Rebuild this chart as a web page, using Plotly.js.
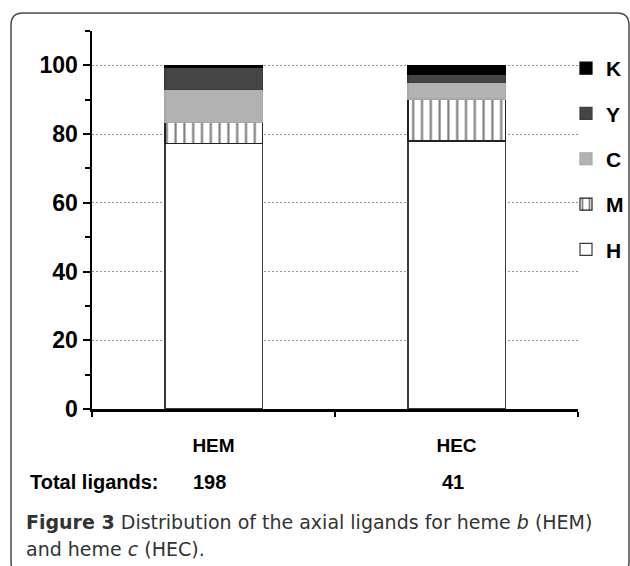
<!DOCTYPE html>
<html>
<head>
<meta charset="utf-8">
<script src="https://cdn.plot.ly/plotly-3.0.1.min.js"></script>
<style>html,body{margin:0;padding:0;background:#fff;}#chart{width:630px;height:566px;}</style>
</head>
<body>
<div id="chart"></div>
<script>
// Data
var categories = ['HEM', 'HEC'];
var totals = [198, 41];
var seriesNames = ['H', 'M', 'C', 'Y', 'K'];
var valuesH = [77.3, 78.0];
var valuesM = [6.1, 12.2];
var valuesC = [9.6, 4.9];
var valuesY = [6.5, 2.4];
var valuesK = [0.5, 2.5];
var yTicks = [0, 20, 40, 60, 80, 100];

var seriesValues = [valuesH, valuesM, valuesC, valuesY, valuesK];
var fills = ['#ffffff', '#ffffff', '#b2b2b2', '#454545', '#000000'];
var edgeColors = ['#3a3a3a', '#222222', '#a8a8a8', '#3c3c3c', '#000000'];

var traces = seriesNames.map(function (name, i) {
  var marker = {color: fills[i], line: {color: edgeColors[i], width: 1.2}};
  if (name === 'M') {
    marker.pattern = {shape: '|', fgcolor: '#000000', bgcolor: '#ffffff', size: 8.8, solidity: 0.25, fillmode: 'overlay'};
  }
  return {
    type: 'bar', name: name, x: categories, y: seriesValues[i],
    marker: marker, legendgroup: name, legendrank: seriesNames.length - i, hoverinfo: 'skip'
  };
});

// plot-area pixel geometry helpers for paper coords
var L = 92, R = 52, T = 31, B = 157, W = 630, H = 566;
var pw = W - L - R, ph = H - T - B;
function px(x) { return (x - L) / pw; }
function py(y) { return (H - B - y) / ph; }

var bx0 = px(11), bx1 = px(629), by0 = py(13), by1 = py(574);
var rx = 12 / pw, ry = 12 / ph;
var borderPath = 'M' + (bx0 + rx) + ',' + by0 +
  ' L' + (bx1 - rx) + ',' + by0 +
  ' Q' + bx1 + ',' + by0 + ' ' + bx1 + ',' + (by0 - ry) +
  ' L' + bx1 + ',' + (by1 + ry) +
  ' Q' + bx1 + ',' + by1 + ' ' + (bx1 - rx) + ',' + by1 +
  ' L' + (bx0 + rx) + ',' + by1 +
  ' Q' + bx0 + ',' + by1 + ' ' + bx0 + ',' + (by1 + ry) +
  ' L' + bx0 + ',' + (by0 - ry) +
  ' Q' + bx0 + ',' + by0 + ' ' + (bx0 + rx) + ',' + by0 + ' Z';

var labelFont = {family: 'Liberation Sans, Arial, sans-serif', size: 20, color: '#000', weight: 'bold'};
var captionFont = {family: 'DejaVu Sans, Open Sans, sans-serif', size: 19, color: '#333'};

var annotations = [
  {xref: 'paper', yref: 'paper', x: px(28), y: py(482), xanchor: 'left', yanchor: 'middle',
   text: 'Total ligands:', showarrow: false, font: labelFont}
];
categories.forEach(function (c, i) {
  annotations.push({xref: 'x', yref: 'paper', x: c, xshift: -4, y: py(482), xanchor: 'center', yanchor: 'middle',
    text: String(totals[i]), showarrow: false, font: labelFont});
});
annotations.push({xref: 'paper', yref: 'paper', x: px(24), y: py(522), xanchor: 'left', yanchor: 'middle',
  text: '<b>Figure 3</b> Distribution of the axial ligands for heme <i>b</i> (HEM)', showarrow: false, font: captionFont});
annotations.push({xref: 'paper', yref: 'paper', x: px(24), y: py(549), xanchor: 'left', yanchor: 'middle',
  text: 'and heme <i>c</i> (HEC).', showarrow: false, font: captionFont});

var layout = {
  width: W, height: H,
  margin: {l: L, r: R, t: T, b: B, pad: 0, autoexpand: false},
  paper_bgcolor: '#fff', plot_bgcolor: '#fff',
  barmode: 'stack', bargap: 0.6,
  showlegend: true,
  legend: {x: px(566), y: py(48), xanchor: 'left', yanchor: 'top', traceorder: 'grouped',
    tracegroupgap: 15, font: {family: 'Liberation Sans, Arial, sans-serif', size: 21, color: '#000', weight: 'bold'},
    bgcolor: 'rgba(0,0,0,0)', itemwidth: 30},
  xaxis: {
    type: 'category', showline: true, linecolor: '#000', linewidth: 2.5,
    ticks: 'outside', tickson: 'boundaries', ticklen: 5, tickwidth: 2, tickcolor: '#000',
    ticklabelstandoff: 18,
    tickfont: {family: 'Liberation Sans, Arial, sans-serif', size: 19, color: '#000', weight: 'bold'},
    showgrid: false, zeroline: false, fixedrange: true
  },
  yaxis: {
    range: [0, 110], showline: true, linecolor: '#000', linewidth: 2.5,
    tickmode: 'array', tickvals: yTicks, ticktext: yTicks.map(String),
    ticks: 'outside', ticklen: 7, tickwidth: 2, tickcolor: '#000',
    minor: {tickvals: [10, 30, 50, 70, 90, 110], ticks: 'outside', ticklen: 5, tickwidth: 2, tickcolor: '#000', showgrid: false},
    tickfont: {family: 'Liberation Sans, Arial, sans-serif', size: 23, color: '#000', weight: 'bold'},
    showgrid: true, gridcolor: '#999999', gridwidth: 1, griddash: '2px,2px',
    zeroline: false, fixedrange: true, ticklabelstandoff: 0
  },
  annotations: annotations,
  shapes: [{type: 'path', xref: 'paper', yref: 'paper', path: borderPath, line: {color: '#4a4a4a', width: 1.5}, layer: 'below'}]
};

Plotly.newPlot('chart', traces, layout, {displayModeBar: false, staticPlot: true});
</script>
</body>
</html>
